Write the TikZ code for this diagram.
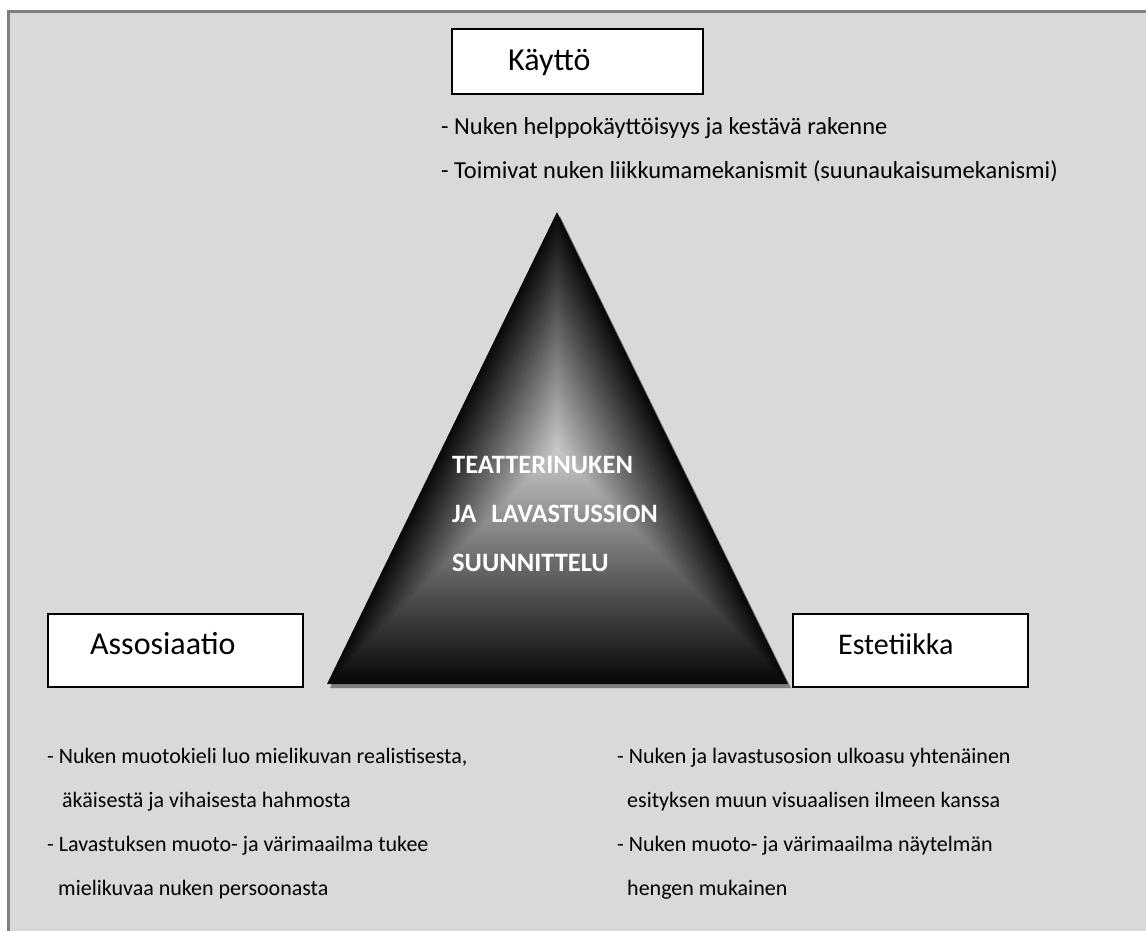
\documentclass[tikz,border=0pt]{standalone}
\usepackage{fontspec}
\setmainfont{Carlito}
\usetikzlibrary{calc}
\definecolor{bg}{HTML}{D9D9D9}
\definecolor{framegray}{HTML}{808080}
\begin{document}
\begin{tikzpicture}[x=1pt,y=-1pt,
  box/.style={draw=black, line width=1.8pt, fill=white, inner sep=0pt, anchor=north west},
  title/.style={anchor=base west, inner sep=0pt, font=\fontsize{32}{38}\selectfont},
  body/.style={anchor=base west, inner sep=0pt, font=\fontsize{22}{26}\selectfont},
  topbody/.style={anchor=base west, inner sep=0pt, font=\fontsize{24.4}{29}\selectfont},
  tritext/.style={anchor=base west, inner sep=0pt, text=white, font=\bfseries\fontsize{26.5}{31}\selectfont}]
\useasboundingbox (0,0) rectangle (1146,930);
\clip (0,0) rectangle (1146,930);
% frame
\fill[bg] (8.7,11.3) rectangle (1160,940);
\draw[framegray, line width=2.7pt] (8.7,11.3) rectangle (1160,940);

% boxes
\node[box, minimum width=251pt, minimum height=65pt] (kbox) at (451,28) {};
\node[box, minimum width=255pt, minimum height=73pt] (abox) at (47,613) {};
\node[box, minimum width=235pt, minimum height=73pt] (ebox) at (792,613) {};
\node[title] (kt) at (508,70) {Käyttö};
\node[title] (at) at (90,654) {Assosiaatio};
\node[title, font=\fontsize{30}{36}\selectfont] (et) at (838,654) {Estetiikka};

% triangle
\coordinate (A) at (557,212);
\coordinate (B) at (327,684);
\coordinate (Cc) at (788,684);
\coordinate (M) at (557,450);
\fill[framegray] ([shift={(3,4)}]A) -- ([shift={(3,4)}]B) -- ([shift={(3,4)}]Cc) -- cycle;
\foreach \i in {0,...,89}{
  \pgfmathsetmacro\s{1-\i/90}
  \pgfmathsetmacro\g{0.03+0.76*\i/90}
  \definecolor{tg}{gray}{\g}
  \fill[tg] ($(M)!\s!(A)$) -- ($(M)!\s!(B)$) -- ($(M)!\s!(Cc)$) -- cycle;
}
\node[tritext] (t1) at (452,473) {TEATTERINUKEN};
\node[tritext] (t2) at (452,522) {JA\hspace{15pt}LAVASTUSSION};
\node[tritext] (t3) at (452,571) {SUUNNITTELU};

% body texts
\node[topbody] (k1) at (441,134) {- Nuken helppokäyttöisyys ja kestävä rakenne};
\node[topbody] (k2) at (441,178) {- Toimivat nuken liikkumamekanismit (suunaukaisumekanismi)};
\node[body] (a1) at (47,763) {- Nuken muotokieli luo mielikuvan realistisesta,};
\node[body] (a2) at (62,807) {äkäisestä ja vihaisesta hahmosta};
\node[body] (a3) at (47,851) {- Lavastuksen muoto- ja värimaailma tukee};
\node[body] (a4) at (58,895) {mielikuvaa nuken persoonasta};
\node[body] (e1) at (617,763) {- Nuken ja lavastusosion ulkoasu yhtenäinen};
\node[body] (e2) at (627,807) {esityksen muun visuaalisen ilmeen kanssa};
\node[body] (e3) at (617,851) {- Nuken muoto- ja värimaailma näytelmän};
\node[body] (e4) at (627,895) {hengen mukainen};
\end{tikzpicture}
\end{document}
